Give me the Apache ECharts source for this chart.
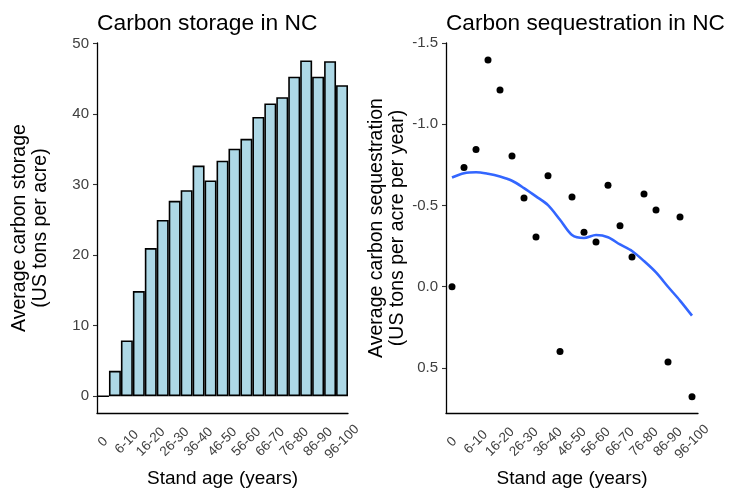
<!DOCTYPE html>
<html>
<head>
<meta charset="utf-8">
<script src="https://cdn.jsdelivr.net/npm/echarts@6/dist/echarts.min.js"></script>
<style>
  html, body { margin: 0; padding: 0; background: #fff; }
  #chart { width: 729px; height: 489px; }
</style>
</head>
<body>
<div id="chart"></div>
<script>
// stand age classes (every other one is labelled on the axis)
var ageClasses = ["0", "1-5", "6-10", "11-15", "16-20", "21-25", "26-30", "31-35", "36-40", "41-45",
  "46-50", "51-55", "56-60", "61-65", "66-70", "71-75", "76-80", "81-85", "86-90", "91-95", "96-100"];

// average carbon storage (US tons per acre)
var storage = [0, 3.6, 7.9, 14.9, 21.0, 25.0, 27.7, 29.2, 32.7, 30.6,
  33.4, 35.1, 36.5, 39.6, 41.5, 42.4, 45.3, 47.6, 45.3, 47.5, 44.1];

// average carbon sequestration (US tons per acre per year)
var sequestration = [0, -0.734, -0.844, -1.396, -1.21, -0.804, -0.546, -0.306, -0.683, 0.398,
  -0.552, -0.336, -0.275, -0.625, -0.375, -0.183, -0.57, -0.472, 0.463, -0.429, 0.677];

// smoothed trend of sequestration
var seqTrend = [-0.672, -0.699, -0.705, -0.695, -0.678, -0.652, -0.607, -0.556, -0.502, -0.412,
  -0.318, -0.300, -0.318, -0.305, -0.260, -0.220, -0.158, -0.088, 0.000, 0.085, 0.178];

var storageTicks = [0, 10, 20, 30, 40, 50];
var seqTicks = [-1.5, -1.0, -0.5, 0.0, 0.5];

var chart = echarts.init(document.getElementById("chart"));

var font = "Liberation Sans, Arial, sans-serif";

function xAxisFor(gridIndex) {
  return {
    type: "category",
    gridIndex: gridIndex,
    data: ageClasses,
    boundaryGap: true,
    name: "Stand age (years)",
    nameLocation: "middle",
    nameGap: 55,
    nameTextStyle: { fontFamily: font, fontSize: 19, color: "#000" },
    axisLine: { onZero: false, lineStyle: { color: "#000", width: 1.3 } },
    axisTick: { interval: 1, alignWithLabel: true, length: 4, lineStyle: { color: "#333", width: 1.1 } },
    axisLabel: {
      interval: 1, rotate: 45, margin: 29, align: "center", verticalAlign: "middle",
      fontFamily: font, fontSize: 13.5, color: "#404040"
    },
    splitLine: { show: false }
  };
}

var option = {
  backgroundColor: "#fff",
  animation: false,
  title: [
    { text: "Carbon storage in NC", left: 97, top: 12, padding: 0,
      textStyle: { fontFamily: font, fontSize: 22.8, fontWeight: "normal", color: "#000" } },
    { text: "Carbon sequestration in NC", left: 446, top: 12, padding: 0,
      textStyle: { fontFamily: font, fontSize: 22.6, fontWeight: "normal", color: "#000" } }
  ],
  grid: [
    { left: 97, top: 43, width: 251, height: 370, outerBoundsMode: "none" },
    { left: 446, top: 43, width: 252, height: 370, outerBoundsMode: "none" }
  ],
  xAxis: [xAxisFor(0), xAxisFor(1)],
  yAxis: [
    {
      type: "value",
      gridIndex: 0,
      min: -2.38,
      max: 50.08,
      name: "Average carbon storage\n(US tons per acre)",
      nameLocation: "middle",
      nameGap: 46,
      nameTextStyle: { fontFamily: font, fontSize: 19.5, lineHeight: 21, color: "#000" },
      axisLine: { show: true, lineStyle: { color: "#000", width: 1.3 } },
      axisTick: { show: true, length: 4, customValues: storageTicks, lineStyle: { color: "#333", width: 1.1 } },
      axisLabel: { customValues: storageTicks, margin: 8, fontFamily: font, fontSize: 15, color: "#404040" },
      splitLine: { show: false }
    },
    {
      type: "value",
      gridIndex: 1,
      inverse: true,
      min: -1.5,
      max: 0.777,
      name: "Average carbon sequestration\n(US tons per acre per year)",
      nameLocation: "middle",
      nameGap: 37,
      nameTextStyle: { fontFamily: font, fontSize: 19.5, lineHeight: 21, color: "#000" },
      axisLine: { show: true, lineStyle: { color: "#000", width: 1.3 } },
      axisTick: { show: true, length: 4, customValues: seqTicks, lineStyle: { color: "#333", width: 1.1 } },
      axisLabel: {
        customValues: seqTicks, margin: 8, fontFamily: font, fontSize: 15, color: "#404040",
        formatter: function (v) { return v.toFixed(1); }
      },
      splitLine: { show: false }
    }
  ],
  series: [
    {
      name: "Carbon storage",
      type: "bar",
      xAxisIndex: 0,
      yAxisIndex: 0,
      data: storage,
      barCategoryGap: "0%",
      itemStyle: { color: "#add8e6", borderColor: "#000", borderWidth: 1.6 }
    },
    {
      name: "Carbon sequestration",
      type: "scatter",
      xAxisIndex: 1,
      yAxisIndex: 1,
      data: sequestration,
      symbolSize: 7,
      itemStyle: { color: "#000", opacity: 1 }
    },
    {
      name: "Trend",
      type: "line",
      xAxisIndex: 1,
      yAxisIndex: 1,
      data: seqTrend,
      smooth: 0.3,
      showSymbol: false,
      lineStyle: { color: "#3366ff", width: 2.6 },
      z: 3
    }
  ]
};

chart.setOption(option);
</script>
</body>
</html>
